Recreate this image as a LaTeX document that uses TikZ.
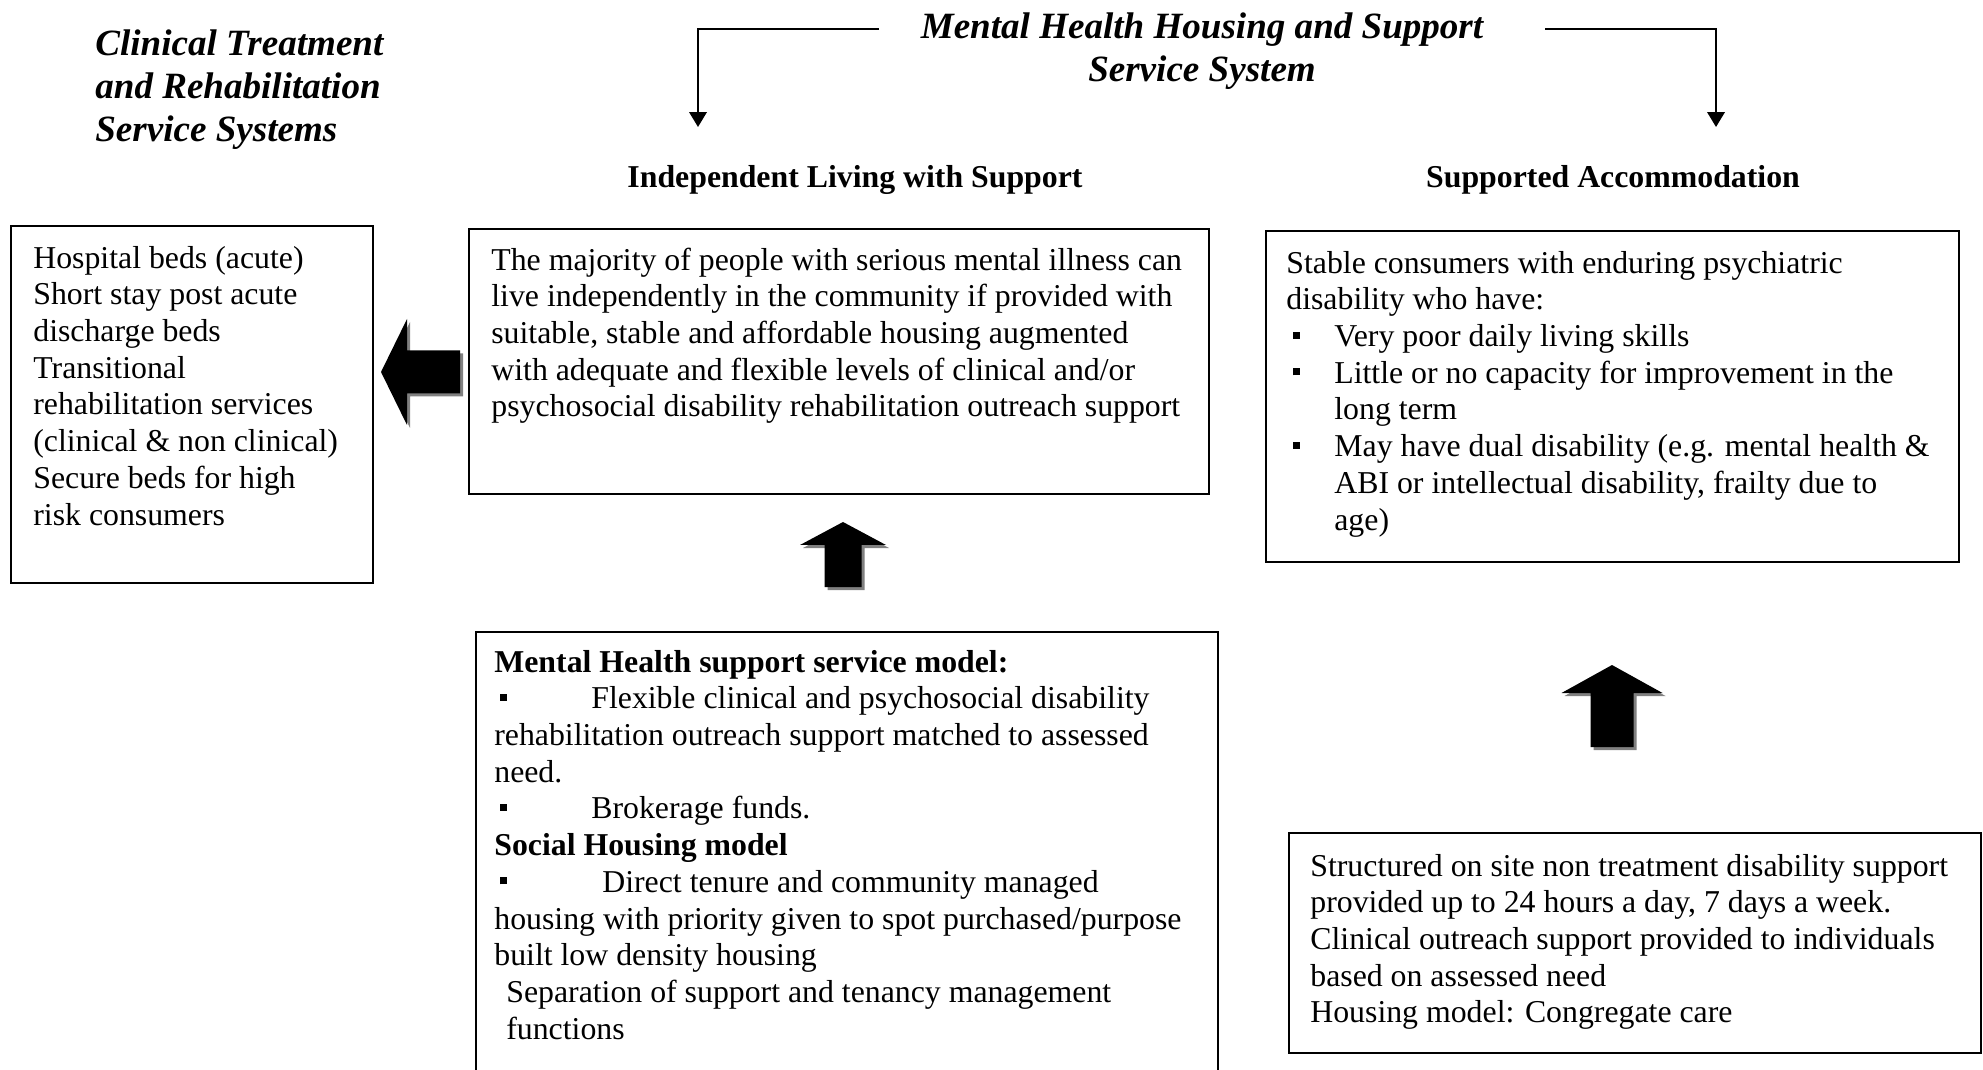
\documentclass[tikz,border=0pt]{standalone}
\usepackage{fontspec}
\setmainfont{Liberation Serif}
\usetikzlibrary{positioning, fit, arrows.meta}
\definecolor{arrowshadow}{RGB}{128,128,128}
\newdimen\pxunit \pxunit=0.02cm
\newcommand{\sqbullet}{\rule[0.25em]{0.22em}{0.22em}}
% tip, rotation, length, head length, head width, shaft width
\newcommand{\blockarrow}[6]{%
  \foreach \off/\col in {3/arrowshadow, 0/black}{
    \fill[\col, shift={(#1)}, shift={(\off,\off)}, rotate=#2]
      (0,0) -- (#5/2,#4) -- (#6/2,#4) -- (#6/2,#3) -- (-#6/2,#3) -- (-#6/2,#4) -- (-#5/2,#4) -- cycle;
  }}

\begin{document}
\begin{tikzpicture}[
  x=0.02cm, y=-0.02cm,
  box/.style={draw, line width=1pt, inner sep=0pt},
  body/.style={font=\fontsize{18.1}{20.9}\selectfont, align=left, anchor=north west, inner sep=0pt},
  title/.style={font=\fontsize{21.1}{24.5}\selectfont\bfseries\itshape, inner sep=0pt},
  head/.style={font=\fontsize{18.1}{20.9}\selectfont\bfseries, inner sep=0pt, anchor=base},
  conn/.style={line width=1pt, -{Triangle[width=10pt,length=8.5pt]}}
]
\useasboundingbox (0,0) rectangle (1983,1070);
\clip (0,0) rectangle (1983,1070);

% titles
\node[title, align=left, anchor=north west] (clintitle) at (95,25) {\strut Clinical Treatment\\and Rehabilitation\\Service Systems};
\node[title, align=center, anchor=north] (mhtitle) at (1202,8) {\strut Mental Health Housing and Support\\Service System};
\node[head] (ilhead) at (855,188) {Independent Living with Support};
\node[head] (sahead) at (1613,188) {Supported Accommodation};

\coordinate (lsplit) at (879,29);
\coordinate (ilend) at (698,127);
\coordinate (rsplit) at (1545,29);
\coordinate (saend) at (1716,127);
\draw[conn] (lsplit) -| (ilend);
\draw[conn] (rsplit) -| (saend);

% boxes
\node[box, fit={(11,226) (373,583)}] (clinbox) {};
\node[box, fit={(469,229) (1209,494)}] (ilbox) {};
\node[box, fit={(1266,231) (1959,562)}] (sabox) {};
\node[box, fit={(476,632) (1218,1090)}] (ilmodel) {};
\node[box, fit={(1289,833) (1981,1053)}] (samodel) {};

\node[body] (clintext) at (33,242) {\strut Hospital beds (acute)\\Short stay post acute\\discharge beds\\Transitional\\rehabilitation services\\(clinical \& non clinical)\\Secure beds for high\\risk consumers};

\node[body] (iltext) at (491,244) {\strut The majority of people with serious mental illness can\\live independently in the community if provided with\\suitable, stable and affordable housing augmented\\with adequate and flexible levels of clinical and/or\\psychosocial disability rehabilitation outreach support};

\node[body] (satext) at (1286,247) {\strut Stable consumers with enduring psychiatric\\disability who have:\\
\makebox[48\pxunit][l]{\hspace{7\pxunit}\sqbullet}Very poor daily living skills\\
\makebox[48\pxunit][l]{\hspace{7\pxunit}\sqbullet}Little or no capacity for improvement in the\\
\hspace*{48\pxunit}long term\\
\makebox[48\pxunit][l]{\hspace{7\pxunit}\sqbullet}May have dual disability (e.g. mental health \&\\
\hspace*{48\pxunit}ABI or intellectual disability, frailty due to\\
\hspace*{48\pxunit}age)};

\node[body] (ilmodeltext) at (494,646) {\strut\textbf{Mental Health support service model:}\\
\makebox[97\pxunit][l]{\hspace{6\pxunit}\sqbullet}Flexible clinical and psychosocial disability\\
rehabilitation outreach support matched to assessed\\need.\\
\makebox[97\pxunit][l]{\hspace{6\pxunit}\sqbullet}Brokerage funds.\\
\textbf{Social Housing model}\\
\makebox[108\pxunit][l]{\hspace{6\pxunit}\sqbullet}Direct tenure and community managed\\
housing with priority given to spot purchased/purpose\\built low density housing\\
\hspace*{12\pxunit}Separation of support and tenancy management\\
\hspace*{12\pxunit}functions};

\node[body] (samodeltext) at (1310,850) {\strut Structured on site non treatment disability support\\provided up to 24 hours a day, 7 days a week.\\Clinical outreach support provided to individuals\\based on assessed need\\Housing model: Congregate care};

% block arrows
\coordinate (backtip) at (381,372);
\coordinate (iltip) at (843,522);
\coordinate (satip) at (1612,665);
\blockarrow{backtip}{90}{79}{26}{106}{43}
\blockarrow{iltip}{0}{65}{23}{86}{37}
\blockarrow{satip}{0}{82}{28}{101}{43}
\end{tikzpicture}
\end{document}
